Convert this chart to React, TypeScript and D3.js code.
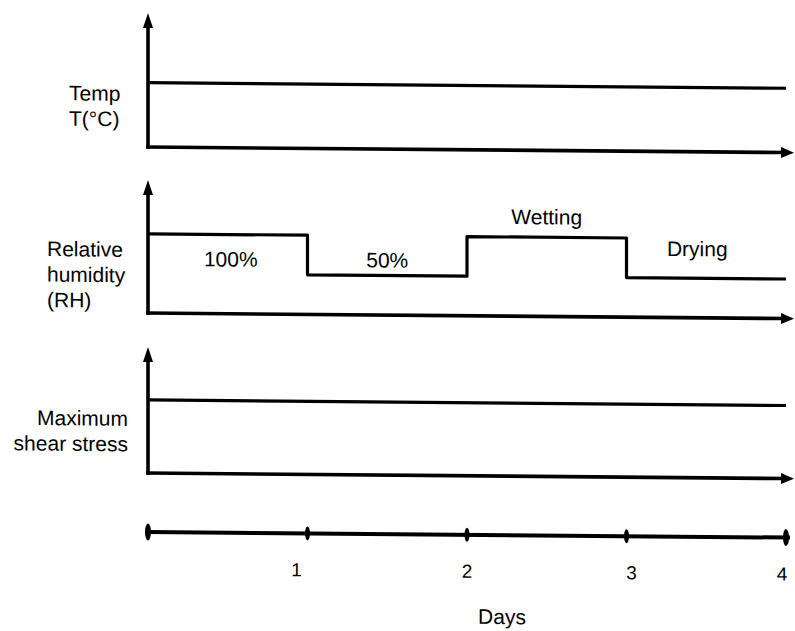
import React, { useRef, useEffect } from 'react';
import * as d3 from 'd3';

// time axis (days)
const days = [0, 1, 2, 3, 4];
const dayLabels = ['', '1', '2', '3', '4'];

// temperature stays constant (relative units)
const tempDays = [0, 4];
const tempLevels = [0.48, 0.48];

// relative humidity steps, % (step after each day)
const rhDays = [0, 1, 2, 3, 4];
const rhValues = [100, 50, 100, 50, 50];
const rhNotes = ['100%', '50%', 'Wetting', 'Drying'];

// maximum shear stress stays constant (relative units)
const shearDays = [0, 4];
const shearLevels = [0.58, 0.58];

const panelTitles = [
	['Temp', 'T(°C)'],
	['Relative', 'humidity', '(RH)'],
	['Maximum', 'shear stress'],
];

const W = 795;
const H = 631;
const FONT = '"Liberation Sans", Arial, Helvetica, sans-serif';

const renderChart = (ref) => {
	const svg = d3.select(ref.current);
	svg.selectAll('*').remove();
	svg.attr('width', W).attr('height', H);

	const x0 = 148;
	// the scanned figure leans a little, keep the same lean
	const g = svg.append('g')
		.attr('transform', `translate(${ x0 },0) skewY(0.5) translate(${ -x0 },0)`);

	const x = d3.scaleLinear().domain([0, 4]).range([x0, 786]);
	const arrowX = 794;

	const panels = [
		{ base: 147, y: d3.scaleLinear().domain([0, 1]).range([147, 13]), top: 1 },
		{ base: 313, y: d3.scaleLinear().domain([0, 168]).range([313, 180]), top: 168 },
		{ base: 473, y: d3.scaleLinear().domain([0, 1]).range([473, 347]), top: 1 },
	];

	const axisW = 3.6;

	panels.forEach((p) => {
		const tipY = p.y(p.top);
		// vertical axis
		g.append('line')
			.attr('x1', x0).attr('x2', x0)
			.attr('y1', p.base + axisW / 2).attr('y2', tipY + 10)
			.attr('stroke', '#000').attr('stroke-width', axisW);
		g.append('path')
			.attr('d', `M${ x0 },${ tipY } L${ x0 - 5 },${ tipY + 15 } L${ x0 + 5 },${ tipY + 15 } Z`)
			.attr('fill', '#000');
		// horizontal axis
		g.append('line')
			.attr('x1', x0 - axisW / 2).attr('x2', arrowX - 8)
			.attr('y1', p.base).attr('y2', p.base)
			.attr('stroke', '#000').attr('stroke-width', axisW);
		g.append('path')
			.attr('d', `M${ arrowX },${ p.base } L${ arrowX - 13 },${ p.base - 5.5 } L${ arrowX - 13 },${ p.base + 5.5 } Z`)
			.attr('fill', '#000');
	});

	const line = (yScale) => d3.line()
		.x((d) => x(d[0]))
		.y((d) => yScale(d[1]));

	// temperature
	g.append('path')
		.datum(tempDays.map((d, i) => [d, tempLevels[i]]))
		.attr('d', line(panels[0].y))
		.attr('fill', 'none').attr('stroke', '#000').attr('stroke-width', 3.2);

	// relative humidity
	g.append('path')
		.datum(rhDays.map((d, i) => [d, rhValues[i]]))
		.attr('d', line(panels[1].y).curve(d3.curveStepAfter))
		.attr('fill', 'none').attr('stroke', '#000').attr('stroke-width', 3.2)
		.attr('stroke-linejoin', 'round');

	// shear stress
	g.append('path')
		.datum(shearDays.map((d, i) => [d, shearLevels[i]]))
		.attr('d', line(panels[2].y))
		.attr('fill', 'none').attr('stroke', '#000').attr('stroke-width', 3.2);

	// RH annotations
	const noteDy = [32, -8, -13, -22];
	const noteDx = [3, 0, 0, -9];
	rhNotes.forEach((t, i) => {
		g.append('text')
			.attr('x', x(rhDays[i] + 0.5) + noteDx[i])
			.attr('y', panels[1].y(rhValues[i]) + noteDy[i])
			.attr('text-anchor', 'middle')
			.attr('font-family', FONT).attr('font-size', 21)
			.text(t);
	});

	// side titles
	const titlePos = [
		{ x: 69, y: 101, anchor: 'start' },
		{ x: 47, y: 257, anchor: 'start' },
		{ x: 128, y: 426, anchor: 'end' },
	];
	panelTitles.forEach((lines, i) => {
		lines.forEach((t, j) => {
			g.append('text')
				.attr('x', titlePos[i].x)
				.attr('y', titlePos[i].y + j * 25.5)
				.attr('text-anchor', titlePos[i].anchor)
				.attr('font-family', FONT).attr('font-size', 21)
				.text(t);
		});
	});

	// days axis
	const axisY = 532;
	g.append('line')
		.attr('x1', x(0)).attr('x2', x(4) + 4)
		.attr('y1', axisY).attr('y2', axisY)
		.attr('stroke', '#000').attr('stroke-width', 4);
	g.selectAll('.tick')
		.data(days)
		.join('ellipse')
		.attr('class', 'tick')
		.attr('cx', (d) => x(d))
		.attr('cy', axisY)
		.attr('rx', (d) => (d === 0 || d === 4 ? 3 : 2.5))
		.attr('ry', (d) => (d === 0 || d === 4 ? 8.5 : 7))
		.attr('fill', '#000');
	const labelDx = [0, -11, 0, 5, -4];
	g.selectAll('.tick-label')
		.data(days)
		.join('text')
		.attr('class', 'tick-label')
		.attr('x', (d, i) => x(d) + labelDx[i])
		.attr('y', axisY + 43)
		.attr('text-anchor', 'middle')
		.attr('font-family', FONT).attr('font-size', 19)
		.text((d, i) => dayLabels[i]);

	g.append('text')
		.attr('x', (x(0) + x(4)) / 2 + 35)
		.attr('y', 621)
		.attr('text-anchor', 'middle')
		.attr('font-family', FONT).attr('font-size', 21)
		.text('Days');
};

const App = () => {
	const ref = useRef(null);

	useEffect(() => {
		renderChart(ref);
	}, []);

	return (
		<div style={{ position: 'absolute', left: 0, top: 0, width: W, height: H, background: '#fff' }}>
			<svg ref={ ref } style={{ display: 'block' }}/>
		</div>
	);
};

export default App;
